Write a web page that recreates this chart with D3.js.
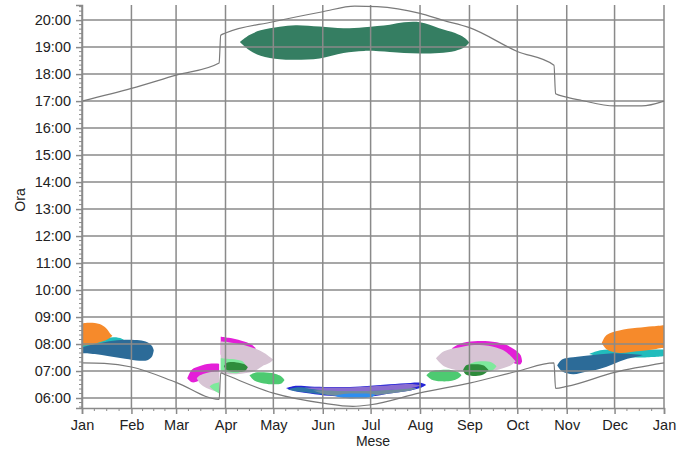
<!DOCTYPE html>
<html>
<head>
<meta charset="utf-8">
<script src="https://cdn.jsdelivr.net/npm/d3@7"></script>
<style>
  body { margin: 0; background: #fff; }
  text { font-family: "Liberation Sans", Arial, sans-serif; fill: #222; }
</style>
</head>
<body>
<svg id="chart" width="690" height="450"></svg>
<script>
// ---- data ---------------------------------------------------------------
const monthLabels = ["Jan", "Feb", "Mar", "Apr", "May", "Jun", "Jul", "Aug", "Sep", "Oct", "Nov", "Dec", "Jan"];
const hourTicks = [6, 7, 8, 9, 10, 11, 12, 13, 14, 15, 16, 17, 18, 19, 20];
const xTitle = "Mese";
const yTitle = "Ora";

// sunrise / sunset (local clock time, decimal hours)
const sunrise = [
  ["2023-01-01", 7.30], ["2023-01-15", 7.28], ["2023-02-01", 7.15], ["2023-03-01", 6.58],
  ["2023-03-28", 5.95], ["2023-03-29", 6.93], ["2023-04-01", 6.86], ["2023-05-01", 6.18],
  ["2023-06-01", 5.81], ["2023-06-20", 5.69], ["2023-07-01", 5.75], ["2023-08-01", 6.19],
  ["2023-09-01", 6.55], ["2023-10-01", 6.99], ["2023-10-24", 7.30], ["2023-10-25", 6.36],
  ["2023-11-01", 6.43], ["2023-12-01", 6.95], ["2024-01-01", 7.30]
];
const sunset = [
  ["2023-01-01", 17.00], ["2023-02-01", 17.47], ["2023-03-01", 17.96], ["2023-03-28", 18.41],
  ["2023-03-29", 19.44], ["2023-04-01", 19.52], ["2023-05-01", 19.94], ["2023-06-01", 20.31],
  ["2023-06-21", 20.52], ["2023-07-05", 20.50], ["2023-08-01", 20.25], ["2023-08-15", 20.00],
  ["2023-09-01", 19.72], ["2023-10-01", 18.84], ["2023-10-24", 18.33], ["2023-10-25", 17.27],
  ["2023-11-01", 17.15], ["2023-11-10", 17.03], ["2023-12-01", 16.82], ["2023-12-18", 16.82],
  ["2024-01-01", 17.00]
];

// glare windows: [date, start hour, end hour]
const eveningGreen = [
  ["2023-04-10", 19.19, 19.19], ["2023-04-16", 18.88, 19.45], ["2023-04-23", 18.68, 19.62],
  ["2023-05-05", 18.55, 19.75], ["2023-05-15", 18.53, 19.81], ["2023-05-30", 18.58, 19.76],
  ["2023-06-14", 18.78, 19.70], ["2023-06-27", 18.86, 19.74], ["2023-07-13", 18.82, 19.83],
  ["2023-07-22", 18.78, 19.92], ["2023-08-01", 18.76, 19.92], ["2023-08-13", 18.78, 19.70],
  ["2023-08-23", 18.86, 19.52], ["2023-08-29", 19.00, 19.34], ["2023-09-01", 19.17, 19.17]
];
const janTeal = [
  ["2023-01-01", 7.80, 8.10], ["2023-01-12", 7.85, 8.18], ["2023-01-21", 7.95, 8.25],
  ["2023-01-26", 8.05, 8.20], ["2023-01-28", 8.12, 8.12]
];
const janBlue = [
  ["2023-01-01", 7.66, 7.88], ["2023-01-09", 7.63, 7.99], ["2023-01-18", 7.55, 8.10],
  ["2023-01-28", 7.45, 8.16], ["2023-02-06", 7.38, 8.14], ["2023-02-11", 7.40, 8.07],
  ["2023-02-14", 7.55, 7.92], ["2023-02-15", 7.77, 7.77]
];
const janOrange = [
  ["2023-01-01", 7.95, 8.77], ["2023-01-06", 7.97, 8.79], ["2023-01-12", 8.07, 8.74],
  ["2023-01-16", 8.14, 8.59], ["2023-01-19", 8.25, 8.36], ["2023-01-20", 8.31, 8.31]
];
const decTeal = [
  ["2023-11-15", 7.63, 7.63], ["2023-11-22", 7.55, 7.77], ["2023-12-04", 7.52, 7.80],
  ["2023-12-17", 7.50, 7.80], ["2024-01-01", 7.55, 7.80]
];
const decBlue = [
  ["2023-10-26", 7.21, 7.21], ["2023-10-29", 6.99, 7.43], ["2023-11-05", 6.88, 7.51],
  ["2023-11-13", 6.97, 7.57], ["2023-11-22", 7.08, 7.62], ["2023-11-30", 7.25, 7.66],
  ["2023-12-09", 7.45, 7.64], ["2023-12-17", 7.56, 7.60], ["2023-12-19", 7.59, 7.59]
];
const decOrange = [
  ["2023-11-23", 8.04, 8.04], ["2023-11-26", 7.81, 8.33], ["2023-12-04", 7.67, 8.50],
  ["2023-12-15", 7.73, 8.60], ["2023-12-25", 7.80, 8.66], ["2024-01-01", 7.86, 8.70]
];
const marMagenta = [
  ["2023-03-08", 6.73, 6.73], ["2023-03-11", 6.58, 7.06], ["2023-03-16", 6.65, 7.19],
  ["2023-03-22", 6.77, 7.27], ["2023-03-28", 6.80, 7.27]
];
const marMauve = [
  ["2023-03-14", 6.73, 6.73], ["2023-03-16", 6.54, 6.84], ["2023-03-20", 6.37, 6.93],
  ["2023-03-24", 6.28, 6.97], ["2023-03-28", 6.21, 6.99]
];
const marMint = [
  ["2023-03-22", 6.43, 6.43], ["2023-03-24", 6.32, 6.51], ["2023-03-28", 6.17, 6.58]
];
const aprMagenta = [
  ["2023-03-29", 7.60, 8.27], ["2023-04-03", 7.60, 8.23], ["2023-04-11", 7.60, 8.12],
  ["2023-04-17", 7.70, 7.99], ["2023-04-20", 7.84, 7.84]
];
const aprMauve = [
  ["2023-03-29", 6.92, 8.09], ["2023-04-03", 6.88, 8.07], ["2023-04-11", 6.90, 7.98],
  ["2023-04-19", 6.99, 7.84], ["2023-04-25", 7.21, 7.68], ["2023-04-29", 7.32, 7.51],
  ["2023-05-01", 7.42, 7.42]
];
const aprMint = [
  ["2023-03-29", 7.03, 7.47], ["2023-04-02", 6.96, 7.45], ["2023-04-08", 6.92, 7.42],
  ["2023-04-11", 7.00, 7.38], ["2023-04-13", 7.29, 7.29]
];
const aprDarkGreen = [
  ["2023-03-31", 7.18, 7.18], ["2023-04-02", 7.03, 7.31], ["2023-04-08", 6.97, 7.32],
  ["2023-04-13", 6.99, 7.25], ["2023-04-15", 7.14, 7.14]
];
const mayGreen = [
  ["2023-04-16", 6.84, 6.84], ["2023-04-19", 6.65, 6.93], ["2023-04-25", 6.54, 6.95],
  ["2023-05-02", 6.51, 6.90], ["2023-05-06", 6.54, 6.80], ["2023-05-08", 6.67, 6.67]
];
const summerBlue = [
  ["2023-05-09", 6.36, 6.36], ["2023-05-15", 6.25, 6.45], ["2023-05-24", 6.17, 6.43],
  ["2023-06-05", 6.08, 6.41], ["2023-06-18", 6.04, 6.41], ["2023-07-01", 6.06, 6.45],
  ["2023-07-13", 6.17, 6.51], ["2023-07-26", 6.28, 6.56], ["2023-08-02", 6.39, 6.56],
  ["2023-08-05", 6.49, 6.49]
];
const summerSteel = [
  ["2023-05-10", 6.32, 6.32], ["2023-05-15", 6.25, 6.39], ["2023-05-24", 6.19, 6.38],
  ["2023-06-01", 6.13, 6.36], ["2023-06-08", 6.10, 6.34]
];
const summerGray = [
  ["2023-05-26", 6.28, 6.28], ["2023-06-05", 6.10, 6.30], ["2023-06-24", 6.06, 6.28],
  ["2023-07-13", 6.17, 6.32], ["2023-07-26", 6.28, 6.38], ["2023-07-30", 6.36, 6.36]
];
const summerPurple = [
  ["2023-05-20", 6.38, 6.38], ["2023-05-30", 6.30, 6.39], ["2023-06-18", 6.26, 6.39],
  ["2023-07-07", 6.28, 6.45], ["2023-07-26", 6.36, 6.52], ["2023-08-02", 6.47, 6.47]
];
const summerSky = [
  ["2023-06-08", 6.08, 6.08], ["2023-06-14", 6.00, 6.15], ["2023-06-24", 5.99, 6.17],
  ["2023-07-02", 6.04, 6.15], ["2023-07-04", 6.12, 6.12]
];
const augGreen = [
  ["2023-08-05", 6.84, 6.84], ["2023-08-08", 6.69, 6.99], ["2023-08-14", 6.62, 7.04],
  ["2023-08-21", 6.64, 7.03], ["2023-08-25", 6.73, 6.95], ["2023-08-27", 6.84, 6.84]
];
const sepMagenta = [
  ["2023-08-21", 7.84, 7.84], ["2023-08-26", 7.66, 8.01], ["2023-09-04", 7.66, 8.10],
  ["2023-09-13", 7.59, 8.10], ["2023-09-23", 7.44, 7.99], ["2023-09-29", 7.29, 7.81],
  ["2023-10-03", 7.25, 7.59], ["2023-10-04", 7.36, 7.36]
];
const sepMauve = [
  ["2023-08-11", 7.47, 7.47], ["2023-08-16", 7.18, 7.73], ["2023-08-26", 7.01, 7.88],
  ["2023-09-04", 6.93, 7.96], ["2023-09-13", 6.97, 7.94], ["2023-09-22", 7.10, 7.78],
  ["2023-09-27", 7.21, 7.55], ["2023-09-30", 7.36, 7.36]
];
const sepMint = [
  ["2023-08-29", 7.14, 7.14], ["2023-09-02", 6.99, 7.29], ["2023-09-08", 6.95, 7.36],
  ["2023-09-15", 7.01, 7.32], ["2023-09-18", 7.18, 7.18]
];
const sepDarkGreen = [
  ["2023-08-28", 7.03, 7.03], ["2023-08-30", 6.86, 7.21], ["2023-09-05", 6.82, 7.25],
  ["2023-09-10", 6.88, 7.20], ["2023-09-13", 7.03, 7.03]
];

// ---- layout -------------------------------------------------------------
const W = 690, H = 450;
const margin = { left: 82, right: 26, top: 5, bottom: 42 };
const plotW = W - margin.left - margin.right;
const plotH = H - margin.top - margin.bottom;

const parse = d3.timeParse("%Y-%m-%d");
const yearStart = new Date(2023, 0, 1), yearEnd = new Date(2024, 0, 1);

const x = d3.scaleTime().domain([yearStart, yearEnd]).range([0, plotW]);
const y = d3.scaleLinear().domain([5.63, 20.56]).range([plotH, 0]);

const svg = d3.select("#chart");
const g = svg.append("g").attr("transform", `translate(${margin.left},${margin.top})`);

g.append("clipPath").attr("id", "plot-clip")
  .append("rect").attr("width", plotW).attr("height", plotH);

// ---- glare windows ------------------------------------------------------
const band = d3.area()
  .curve(d3.curveCatmullRom.alpha(0.5))
  .x(d => x(parse(d[0])))
  .y0(d => y(d[1]))
  .y1(d => y(d[2]));

const layers = [
  [eveningGreen, "#357e62"],
  [janTeal, "#22bcbc"], [janBlue, "#2c6b98"], [janOrange, "#f68a2b"],
  [decTeal, "#22bcbc"], [decBlue, "#2c6b98"], [decOrange, "#f68a2b"],
  [marMagenta, "#e41fd8"], [marMauve, "#d7c4d4"], [marMint, "#7ee99c"],
  [aprMagenta, "#e41fd8"], [aprMauve, "#d7c4d4"], [aprMint, "#7ee99c"], [aprDarkGreen, "#2e8c3b"],
  [mayGreen, "#4dca71"],
  [summerBlue, "#2424d8"], [summerSteel, "#2f74a6"], [summerGray, "#6f8c9e"],
  [summerPurple, "#8a6dcf"], [summerSky, "#2e8ef0"],
  [augGreen, "#4dca71"],
  [sepMagenta, "#e41fd8"], [sepMauve, "#d7c4d4"], [sepMint, "#7ee99c"], [sepDarkGreen, "#2e8c3b"]
];

const blobs = g.append("g").attr("clip-path", "url(#plot-clip)");
layers.forEach(([data, color]) => {
  blobs.append("path").datum(data).attr("d", band).attr("fill", color);
});

// ---- grid ---------------------------------------------------------------
const gridColor = "#8a8a8a";
const monthDates = d3.timeMonth.range(yearStart, d3.timeDay.offset(yearEnd, 1));

g.append("g").selectAll("line").data(hourTicks).join("line")
  .attr("x1", 0).attr("x2", plotW)
  .attr("y1", d => y(d)).attr("y2", d => y(d))
  .attr("stroke", gridColor).attr("stroke-width", 1.5);

g.append("g").selectAll("line").data(monthDates).join("line")
  .attr("x1", d => x(d)).attr("x2", d => x(d))
  .attr("y1", 0).attr("y2", plotH)
  .attr("stroke", gridColor).attr("stroke-width", 1.5);

// ---- sunrise / sunset ---------------------------------------------------
const sunLine = d3.line()
  .curve(d3.curveMonotoneX)
  .x(d => x(parse(d[0])))
  .y(d => y(d[1]));

[sunrise, sunset].forEach(series => {
  g.append("path").datum(series).attr("d", sunLine)
    .attr("fill", "none").attr("stroke", "#7a7a7a").attr("stroke-width", 1.2);
});

// ---- axes ---------------------------------------------------------------
const fmtHour = h => String(h).padStart(2, "0") + ":00";

const yAxis = d3.axisLeft(y).tickValues(hourTicks).tickFormat(fmtHour).tickSize(6).tickPadding(5);
const yAxisG = g.append("g").call(yAxis);

const minorHours = d3.range(Math.ceil(y.domain()[0] * 6), Math.floor(y.domain()[1] * 6) + 1)
  .map(k => k / 6).filter(h => Math.abs(h - Math.round(h)) > 1e-6);
g.append("g").selectAll("line").data(minorHours).join("line")
  .attr("x1", -3).attr("x2", 0)
  .attr("y1", d => y(d)).attr("y2", d => y(d))
  .attr("stroke", gridColor).attr("stroke-width", 1);

const xAxis = d3.axisBottom(x).tickValues(monthDates)
  .tickFormat((d, i) => monthLabels[i]).tickSize(6).tickPadding(6);
const xAxisG = g.append("g").attr("transform", `translate(0,${plotH})`).call(xAxis);

const minorDates = [];
monthDates.slice(0, -1).forEach((m, i) => {
  const next = monthDates[i + 1];
  for (let k = 1; k < 4; k++) minorDates.push(new Date(+m + (next - m) * k / 4));
});
g.append("g").selectAll("line").data(minorDates).join("line")
  .attr("x1", d => x(d)).attr("x2", d => x(d))
  .attr("y1", plotH).attr("y2", plotH + 3)
  .attr("stroke", gridColor).attr("stroke-width", 1);

[yAxisG, xAxisG].forEach(a => {
  a.select(".domain").attr("stroke", gridColor).attr("stroke-width", 1.5);
  a.selectAll(".tick line").attr("stroke", gridColor).attr("stroke-width", 1.5);
  a.selectAll(".tick text").attr("font-size", 14.5).attr("fill", "#222")
    .attr("font-family", "'Liberation Sans', Arial, sans-serif");
});

// ---- titles -------------------------------------------------------------
svg.append("text")
  .attr("x", margin.left + plotW / 2).attr("y", 446)
  .attr("text-anchor", "middle").attr("font-size", 14)
  .text(xTitle);

svg.append("text")
  .attr("transform", `translate(25,200) rotate(-90)`)
  .attr("text-anchor", "middle").attr("font-size", 14)
  .text(yTitle);
</script>
</body>
</html>
